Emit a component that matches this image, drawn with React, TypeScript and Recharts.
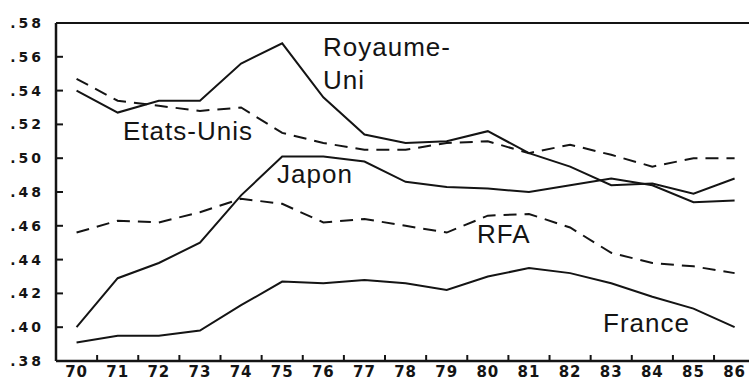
import React from "react";
import { LineChart, Line, XAxis, YAxis, ReferenceLine } from "recharts";

// years 1970 .. 1986
const years = [70, 71, 72, 73, 74, 75, 76, 77, 78, 79, 80, 81, 82, 83, 84, 85, 86];

const royaumeUni = [0.540, 0.527, 0.534, 0.534, 0.556, 0.568, 0.536, 0.514, 0.509, 0.510, 0.516, 0.503, 0.495, 0.484, 0.485, 0.479, 0.488];
const etatsUnis = [0.547, 0.534, 0.531, 0.528, 0.530, 0.515, 0.509, 0.505, 0.505, 0.509, 0.510, 0.503, 0.508, 0.502, 0.495, 0.500, 0.500];
const japon = [0.400, 0.429, 0.438, 0.450, 0.478, 0.501, 0.501, 0.498, 0.486, 0.483, 0.482, 0.480, 0.484, 0.488, 0.484, 0.474, 0.475];
const rfa = [0.456, 0.463, 0.462, 0.468, 0.476, 0.473, 0.462, 0.464, 0.460, 0.456, 0.466, 0.467, 0.459, 0.444, 0.438, 0.436, 0.432];
const france = [0.391, 0.395, 0.395, 0.398, 0.413, 0.427, 0.426, 0.428, 0.426, 0.422, 0.430, 0.435, 0.432, 0.426, 0.418, 0.411, 0.400];

const yTicks = [0.38, 0.40, 0.42, 0.44, 0.46, 0.48, 0.50, 0.52, 0.54, 0.56, 0.58];

// tick marks sit between two years, the year label sits half a step to the right
const xTicks = years.map((y) => y - 0.5);

const data = years.map((year, i) => ({
  year,
  uk: royaumeUni[i],
  us: etatsUnis[i],
  jp: japon[i],
  rfa: rfa[i],
  fr: france[i],
}));

const W = 749;
const H = 381;
const LEFT = 56;
const TOP = 23;
const BOTTOM_H = 20;
const X_DOMAIN: [number, number] = [69.5, 86.35];
const INK = "#141414";

const HALF_STEP = (W - LEFT) / (X_DOMAIN[1] - X_DOMAIN[0]) / 2;

const axisFont = {
  fontFamily: "DejaVu Sans",
  fontWeight: 700,
  fill: INK,
};

const XTick = (props: any) => {
  const { x, payload } = props;
  return (
    <text
      x={x + HALF_STEP}
      y={H - 4}
      textAnchor="middle"
      fontSize={15}
      letterSpacing={1}
      {...axisFont}
    >
      {payload.value + 0.5}
    </text>
  );
};

const YTick = (props: any) => {
  const { y, payload } = props;
  const label = "." + Math.round(payload.value * 100);
  return (
    <text x={44} y={y + 5} textAnchor="end" fontSize={14} letterSpacing={3} {...axisFont}>
      {label}
    </text>
  );
};

const labelStyle = {
  fontFamily: "Liberation Sans",
  fontSize: 26,
  letterSpacing: 1,
  fill: INK,
};

export default function App() {
  return (
    <div style={{ position: "absolute", left: 0, top: 0, width: W, height: H, background: "#fff" }}>
      <LineChart
        width={W}
        height={H}
        data={data}
        margin={{ top: TOP, right: 0, bottom: 0, left: 0 }}
      >
        <XAxis
          dataKey="year"
          type="number"
          domain={X_DOMAIN}
          allowDataOverflow
          ticks={xTicks}
          interval={0}
          height={BOTTOM_H}
          tickSize={-6}
          tickLine={{ stroke: INK, strokeWidth: 2 }}
          tick={<XTick />}
          axisLine={{ stroke: INK, strokeWidth: 2.5 }}
        />
        <YAxis
          type="number"
          domain={[0.38, 0.58]}
          ticks={yTicks}
          interval={0}
          width={LEFT}
          tickSize={-7}
          tickLine={{ stroke: INK, strokeWidth: 2 }}
          tick={<YTick />}
          axisLine={{ stroke: INK, strokeWidth: 2.5 }}
        />
        <ReferenceLine y={0.58} stroke={INK} strokeWidth={2} ifOverflow="visible" />
        <Line dataKey="uk" stroke={INK} strokeWidth={2} dot={false} isAnimationActive={false} type="linear" />
        <Line dataKey="us" stroke={INK} strokeWidth={2} strokeDasharray="13 8" dot={false} isAnimationActive={false} type="linear" />
        <Line dataKey="jp" stroke={INK} strokeWidth={2} dot={false} isAnimationActive={false} type="linear" />
        <Line dataKey="rfa" stroke={INK} strokeWidth={2} strokeDasharray="13 8" dot={false} isAnimationActive={false} type="linear" />
        <Line dataKey="fr" stroke={INK} strokeWidth={2} dot={false} isAnimationActive={false} type="linear" />
      </LineChart>
      <svg width={W} height={H} style={{ position: "absolute", left: 0, top: 0, pointerEvents: "none" }}>
        <text x={323} y={56} {...labelStyle}>Royaume-</text>
        <text x={323} y={89} {...labelStyle}>Uni</text>
        <text x={123} y={140} {...labelStyle}>Etats-Unis</text>
        <text x={277} y={183} {...labelStyle}>Japon</text>
        <text x={477} y={243} {...labelStyle}>RFA</text>
        <text x={603} y={332} {...labelStyle}>France</text>
      </svg>
    </div>
  );
}
